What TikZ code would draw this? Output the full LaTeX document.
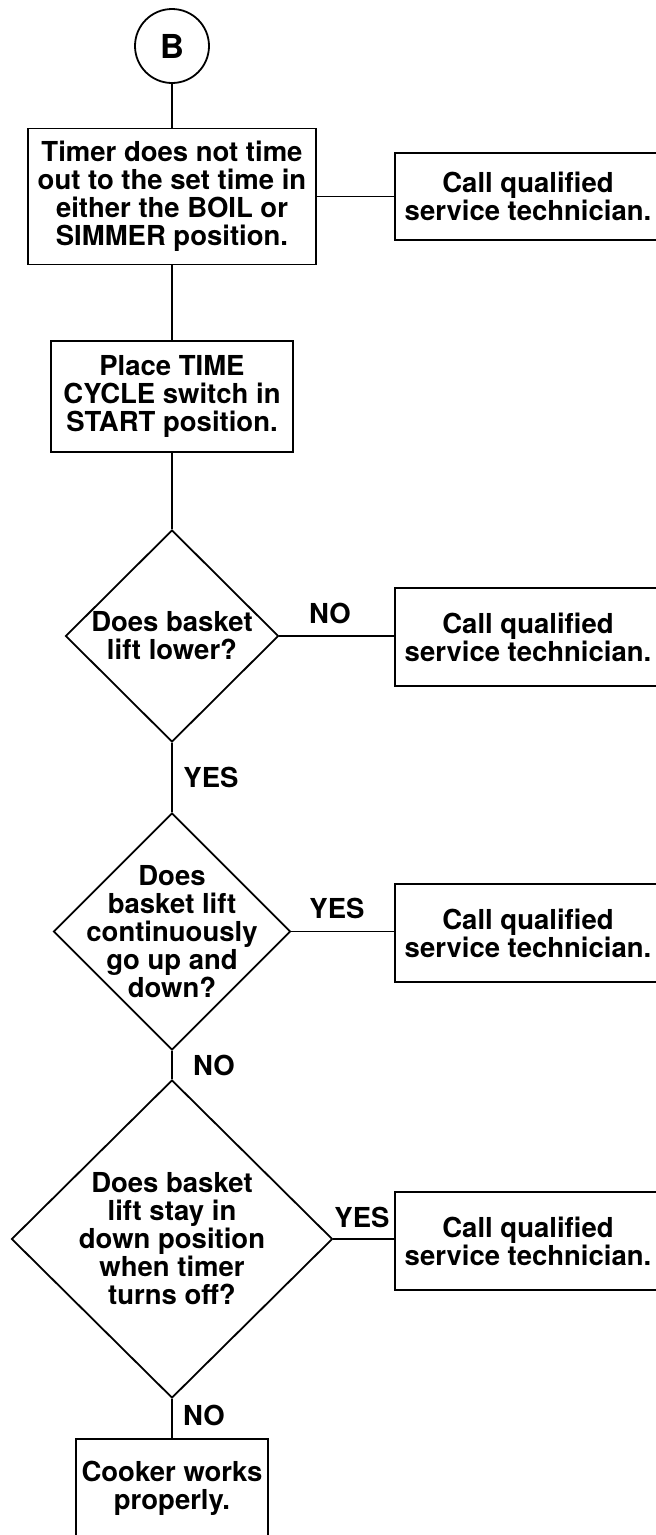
\documentclass[tikz,border=0pt]{standalone}
\usepackage{fontspec}
\setmainfont{TeX Gyre Heros}
\usetikzlibrary{shapes.geometric}
\tikzset{
  base/.style={draw=black, line width=1.8pt, inner sep=0pt, font=\bfseries\fontsize{27.5}{28}\selectfont, align=center},
  box/.style={base, rectangle},
  dia/.style={base, diamond, aspect=1},
  conn/.style={draw=black, line width=1.8pt},
  lbl/.style={font=\bfseries\fontsize{27.5}{28}\selectfont, inner sep=0pt},
  ltxt/.style={font=\bfseries\fontsize{27.5}{28}\selectfont, align=center, inner sep=0pt}
}
\begin{document}
\begin{tikzpicture}[x=1pt, y=-1pt]
\useasboundingbox (0,0) rectangle (656,1535);
\clip (0,0) rectangle (656,1535);
\fill[white] (0,0) rectangle (656,1535);

\node[base, circle, minimum size=74pt, font=\bfseries\fontsize{33}{33}\selectfont] (B) at (172,46) {B};

\node[box, minimum width=288pt, minimum height=136pt] (b1) at (172,196.5)
  {Timer does not time\\out to the set time in\\either the BOIL or\\SIMMER position.};
\node[box, minimum width=266pt, minimum height=87pt] (r1) at (528,196.5)
  {Call qualified\\service technician.};

\node[box, minimum width=242pt, minimum height=111pt] (b2) at (172,396.5)
  {Place TIME\\CYCLE switch in\\START position.};

\node[dia, minimum width=213pt, minimum height=212pt,
  label={[ltxt, name=t1]center:Does basket\\lift lower?}] (d1) at (172,636) {};
\node[box, minimum width=266pt, minimum height=98pt] (r2) at (528,637)
  {Call qualified\\service technician.};

\node[dia, minimum width=237pt, minimum height=237pt,
  label={[ltxt, name=t2]center:Does\\basket lift\\continuously\\go up and\\down?}] (d2) at (172,931.5) {};
\node[box, minimum width=266pt, minimum height=98pt] (r3) at (528,933)
  {Call qualified\\service technician.};

\node[dia, minimum width=321pt, minimum height=318pt,
  label={[ltxt, name=t3]center:Does basket\\lift stay in\\down position\\when timer\\turns off?}] (d3) at (172,1239) {};
\node[box, minimum width=266pt, minimum height=98pt] (r4) at (528,1241)
  {Call qualified\\service technician.};

\node[box, minimum width=192pt, minimum height=98pt] (b3) at (172,1488)
  {Cooker works\\properly.};

% connectors
\draw[conn] (B.south) -- (b1.north);
\draw[conn] (b1.south) -- (b2.north);
\draw[conn] (b2.south) -- (d1.north);
\draw[conn] (d1.south) -- (d2.north);
\draw[conn] (d2.south) -- (d3.north);
\draw[conn] (d3.south) -- (b3.north);
\draw[conn] (b1.east) -- (b1.east -| r1.west);
\draw[conn] (d1.east) -- (d1.east -| r2.west);
\draw[conn] (d2.east) -- (d2.east -| r3.west);
\draw[conn] (d3.east) -- (d3.east -| r4.west);

% labels
\node[lbl] (l1) at (330,613) {NO};
\node[lbl] (l2) at (211,777) {YES};
\node[lbl] (l3) at (337,908) {YES};
\node[lbl] (l4) at (214,1065) {NO};
\node[lbl] (l5) at (362,1217) {YES};
\node[lbl] (l6) at (204,1415) {NO};
\end{tikzpicture}
\end{document}
